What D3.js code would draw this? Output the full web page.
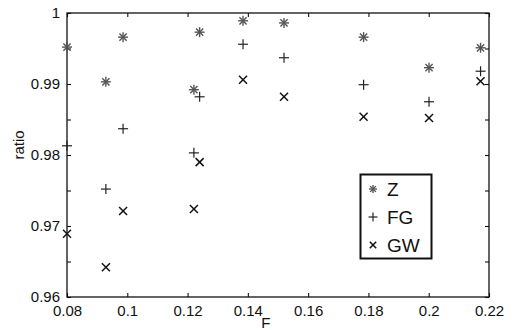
<!DOCTYPE html>
<html><head><meta charset="utf-8">
<script src="https://cdn.jsdelivr.net/npm/d3@7"></script>
<style>body{margin:0;background:#fff}svg{display:block}</style>
</head><body>
<script>
const fValues = [0.08, 0.0929, 0.0986, 0.1221, 0.1240, 0.1384, 0.1520, 0.1784, 0.2001, 0.2172];
const zRatio  = [0.9952, 0.9903, 0.9966, 0.9892, 0.9973, 0.9989, 0.9986, 0.9966, 0.9923, 0.9951];
const fgRatio = [0.9813, 0.9752, 0.9837, 0.9803, 0.9882, 0.9956, 0.9937, 0.9899, 0.9875, 0.9918];
const gwRatio = [0.9689, 0.9642, 0.9721, 0.9724, 0.9790, 0.9906, 0.9882, 0.9854, 0.9852, 0.9904];
const xTicks = [0.08, 0.1, 0.12, 0.14, 0.16, 0.18, 0.2, 0.22];
const yTicks = [0.96, 0.97, 0.98, 0.99, 1];
const yMinorTicks = [0.965, 0.975, 0.985, 0.995];
const seriesNames = ["Z", "FG", "GW"];

const W = 519, H = 330;
const m = {l: 67, r: 30, t: 13, b: 33};
const svg = d3.select("body").append("svg").attr("width", W).attr("height", H);
const x = d3.scaleLinear().domain([0.08, 0.22]).range([m.l, W - m.r]);
const y = d3.scaleLinear().domain([0.96, 1]).range([H - m.b, m.t]);
const font = "Liberation Sans, Arial, Helvetica, sans-serif";

// frame
svg.append("rect").attr("x", x(0.08)).attr("y", y(1)).attr("width", x(0.22) - x(0.08))
  .attr("height", y(0.96) - y(1)).attr("fill", "none").attr("stroke", "#111").attr("stroke-width", 1.3);

const fmt = d => d === 1 ? "1" : String(d);
const gx = svg.append("g").attr("transform", `translate(0,${y(0.96)})`)
  .call(d3.axisBottom(x).tickValues(xTicks).tickSize(-4).tickPadding(8).tickFormat(fmt));
const gxt = svg.append("g").attr("transform", `translate(0,${y(1)})`)
  .call(d3.axisTop(x).tickValues(xTicks).tickSize(-4).tickFormat(""));
const allY = yTicks.concat(yMinorTicks);
const gy = svg.append("g").attr("transform", `translate(${x(0.08)},0)`)
  .call(d3.axisLeft(y).tickValues(allY).tickSize(-4).tickPadding(7)
    .tickFormat(d => yTicks.includes(d) ? fmt(d) : ""));
const gyr = svg.append("g").attr("transform", `translate(${x(0.22)},0)`)
  .call(d3.axisRight(y).tickValues(allY).tickSize(-4).tickFormat(""));
[gx, gxt, gy, gyr].forEach(g => {
  g.select(".domain").remove();
  g.selectAll(".tick line").attr("stroke", "#111").attr("stroke-width", 1.1);
  g.selectAll("text").attr("font-family", font).attr("font-size", 15).attr("fill", "#111");
});

svg.append("text").attr("x", x(0.146)).attr("y", 328).attr("text-anchor", "middle")
  .attr("font-family", font).attr("font-size", 15).attr("fill", "#111").text("F");
svg.append("text").attr("transform", `translate(24,145) rotate(-90)`).attr("text-anchor", "middle")
  .attr("font-family", font).attr("font-size", 15).attr("fill", "#111").text("ratio");

// markers
function drawMarker(g, kind, cx, cy, s) {
  if (kind === "Z") {
    const r = s;
    const col = "#555";
    [[-r,0,r,0],[0,-r,0,r],[-r*0.72,-r*0.72,r*0.72,r*0.72],[-r*0.72,r*0.72,r*0.72,-r*0.72]].forEach(l =>
      g.append("line").attr("x1", cx + l[0]).attr("y1", cy + l[1]).attr("x2", cx + l[2]).attr("y2", cy + l[3])
        .attr("stroke", col).attr("stroke-width", 1.4));
  } else if (kind === "FG") {
    [[-s,0,s,0],[0,-s,0,s]].forEach(l =>
      g.append("line").attr("x1", cx + l[0]).attr("y1", cy + l[1]).attr("x2", cx + l[2]).attr("y2", cy + l[3])
        .attr("stroke", "#222").attr("stroke-width", 1.2));
  } else {
    const r = s * 0.8;
    [[-r,-r,r,r],[-r,r,r,-r]].forEach(l =>
      g.append("line").attr("x1", cx + l[0]).attr("y1", cy + l[1]).attr("x2", cx + l[2]).attr("y2", cy + l[3])
        .attr("stroke", "#111").attr("stroke-width", 1.5));
  }
}
const series = [["Z", zRatio], ["FG", fgRatio], ["GW", gwRatio]];
const gm = svg.append("g");
series.forEach(([name, vals]) => {
  vals.forEach((v, i) => drawMarker(gm, name, x(fValues[i]), y(v), 5));
});

// legend
const lg = svg.append("g");
lg.append("rect").attr("x", 360.5).attr("y", 174.5).attr("width", 71).attr("height", 84)
  .attr("fill", "#fff").attr("stroke", "#111").attr("stroke-width", 2);
seriesNames.forEach((n, i) => {
  const cy = 189 + i * 28;
  drawMarker(lg, n, 373, cy, n === "FG" ? 4.5 : 4);
  lg.append("text").attr("x", 387).attr("y", cy + 7).attr("font-family", font).attr("font-size", 19)
    .attr("fill", "#111").text(n);
});
</script>
</body></html>
